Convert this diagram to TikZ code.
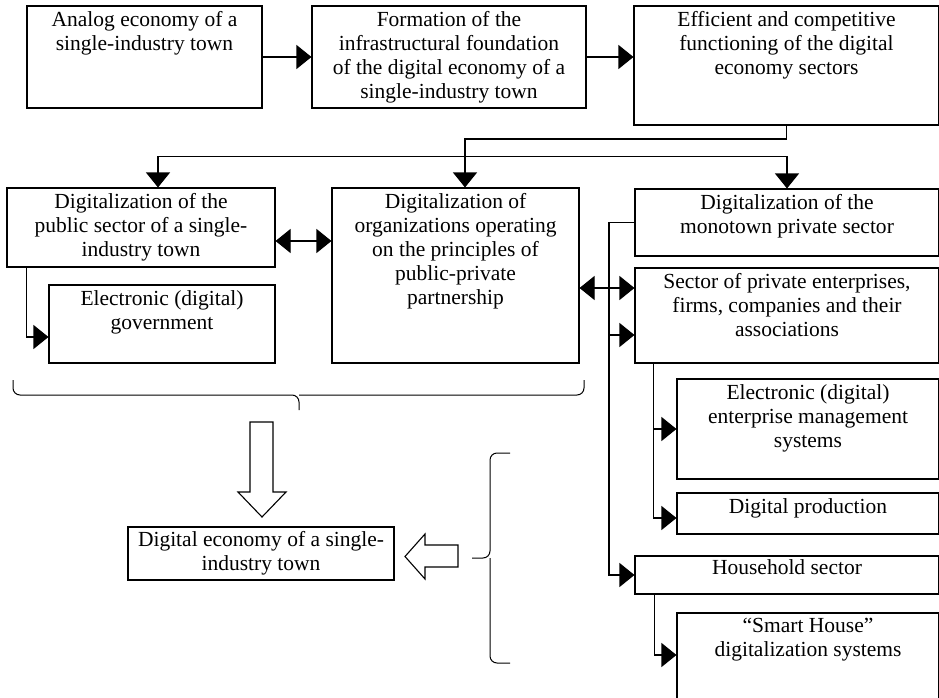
\documentclass[tikz,border=0pt]{standalone}
\usepackage{fontspec}
\setmainfont{Liberation Serif}
\usetikzlibrary{arrows.meta}

\begin{document}
\begin{tikzpicture}[x=1pt,y=-1pt,
	box/.style={draw, line width=1.1pt, inner sep=0pt},
	txt/.style={anchor=north, align=center, inner sep=6pt, font=\fontsize{21.5}{24}\selectfont},
	arr/.style={line width=1.1pt, -{Triangle[length=15pt,width=24pt]}},
	both/.style={line width=1.1pt, {Triangle[length=15pt,width=24pt]}-{Triangle[length=15pt,width=24pt]}},
	brc/.style={line width=1pt, rounded corners=7pt}]
	\useasboundingbox (0,0) rectangle (939,698);
	\def\tx{609}	%x of the trunk along the private sector
	
	%top row
	\node[box, minimum width=235, minimum height=102] (A) at (144.5,57) {};
	\node[txt] (A-t) at (A.north) {Analog economy of a\\single-industry town};
	\node[box, minimum width=274, minimum height=102] (B) at (449,57) {};
	\node[txt] (B-t) at (B.north) {Formation of the\\infrastructural foundation\\of the digital economy of a\\single-industry town};
	\node[box, minimum width=305, minimum height=119] (C) at (786.5,65.5) {};
	\node[txt] (C-t) at (C.north) {Efficient and competitive\\functioning of the digital\\economy sectors};
	
	%public sector and PPP
	\node[box, minimum width=268, minimum height=79] (D) at (141,227.5) {};
	\node[txt] (D-t) at (D.north) {Digitalization of the\\public sector of a single-\\industry town};
	\node[box, minimum width=247, minimum height=175] (E) at (455.5,275.5) {};
	\node[txt] (E-t) at (E.north) {Digitalization of\\organizations operating\\on the principles of\\public-private\\partnership};
	\node[box, minimum width=226, minimum height=78] (G) at (162,324) {};
	\node[txt] (G-t) at (G.north) {Electronic (digital)\\government};
	
	%private sector, right column
	\node[box, minimum width=304, minimum height=67] (F) at (787,222.5) {};
	\node[txt] (F-t) at (F.north) {Digitalization of the\\monotown private sector};
	\node[box, minimum width=304, minimum height=95] (H) at (787,315.5) {};
	\node[txt] (H-t) at (H.north) {Sector of private enterprises,\\firms, companies and their\\associations};
	\node[box, minimum width=262, minimum height=100] (I) at (808,429) {};
	\node[txt] (I-t) at (I.north) {Electronic (digital)\\enterprise management\\systems};
	\node[box, minimum width=262, minimum height=41] (J) at (808,513.5) {};
	\node[txt] (J-t) at (J.north) {Digital production};
	\node[box, minimum width=304, minimum height=38] (K) at (787,575) {};
	\node[txt, inner sep=4pt] (K-t) at (K.north) {Household sector};
	\node[box, minimum width=262, minimum height=92] (L) at (808,659) {};
	\node[txt] (L-t) at (L.north) {“Smart House”\\digitalization systems};
	
	%result
	\node[box, minimum width=266, minimum height=53] (M) at (261,553.5) {};
	\node[txt, inner sep=5pt] (M-t) at (M.north) {Digital economy of a single-\\industry town};
	
	%arrows of the top row
	\draw[arr] (A.east) -- (B.west);
	\draw[arr] (B.east) -- (B.east -| C.west);
	\coordinate (jn) at (465,139);
	\draw[arr] (C.south) |- (jn) -- (jn |- E.north);
	\draw[both] ([xshift=17pt]D.north) -- ++(0,-31) -| (F.north);
	
	%left part
	\draw[both] ([yshift=-13.5pt]D.east) -- ([yshift=-13.5pt]D.east -| E.west);
	\draw[arr] ([xshift=20pt]D.south west) |- ([yshift=-13pt]G.west);
	
	%right part
	\draw[arr] (F.west) -- (F.west -| \tx,0) |- (K.west);
	\draw[both] ([yshift=-12.5pt]E.east) -- ([yshift=-12.5pt]E.east -| H.west);
	\draw[arr] ([yshift=-19.5pt]H.west -| \tx,0) -- ([yshift=-19.5pt]H.west);
	\draw[arr] ([xshift=19pt]H.south west) |- ([yshift=-4.5pt]J.west);
	\draw[arr] ([xshift=19pt]H.south west |- I.west) -- (I.west);
	\draw[arr] ([xshift=20pt]K.south west) |- ([yshift=4pt]L.west);
	
	%braces and hollow arrows
	\draw[brc] (13,380) |- (299,395) -- (299,410);
	\draw[brc] (584,380) |- (299,395);
	\draw[brc] (510,453) -| (490,558) -- (472,558);
	\draw[brc] (510,663) -| (490,558);
	\draw[line width=1.1pt] (250,422) -- (273,422) -- (273,492) -- (286,492) -- (262,517) -- (238,492) -- (250,492) -- cycle;
	\draw[line width=1.1pt] (458,545) -- (425,545) -- (425,534) -- (405,556.5) -- (425,579) -- (425,567) -- (458,567) -- cycle;
\end{tikzpicture}
\end{document}
